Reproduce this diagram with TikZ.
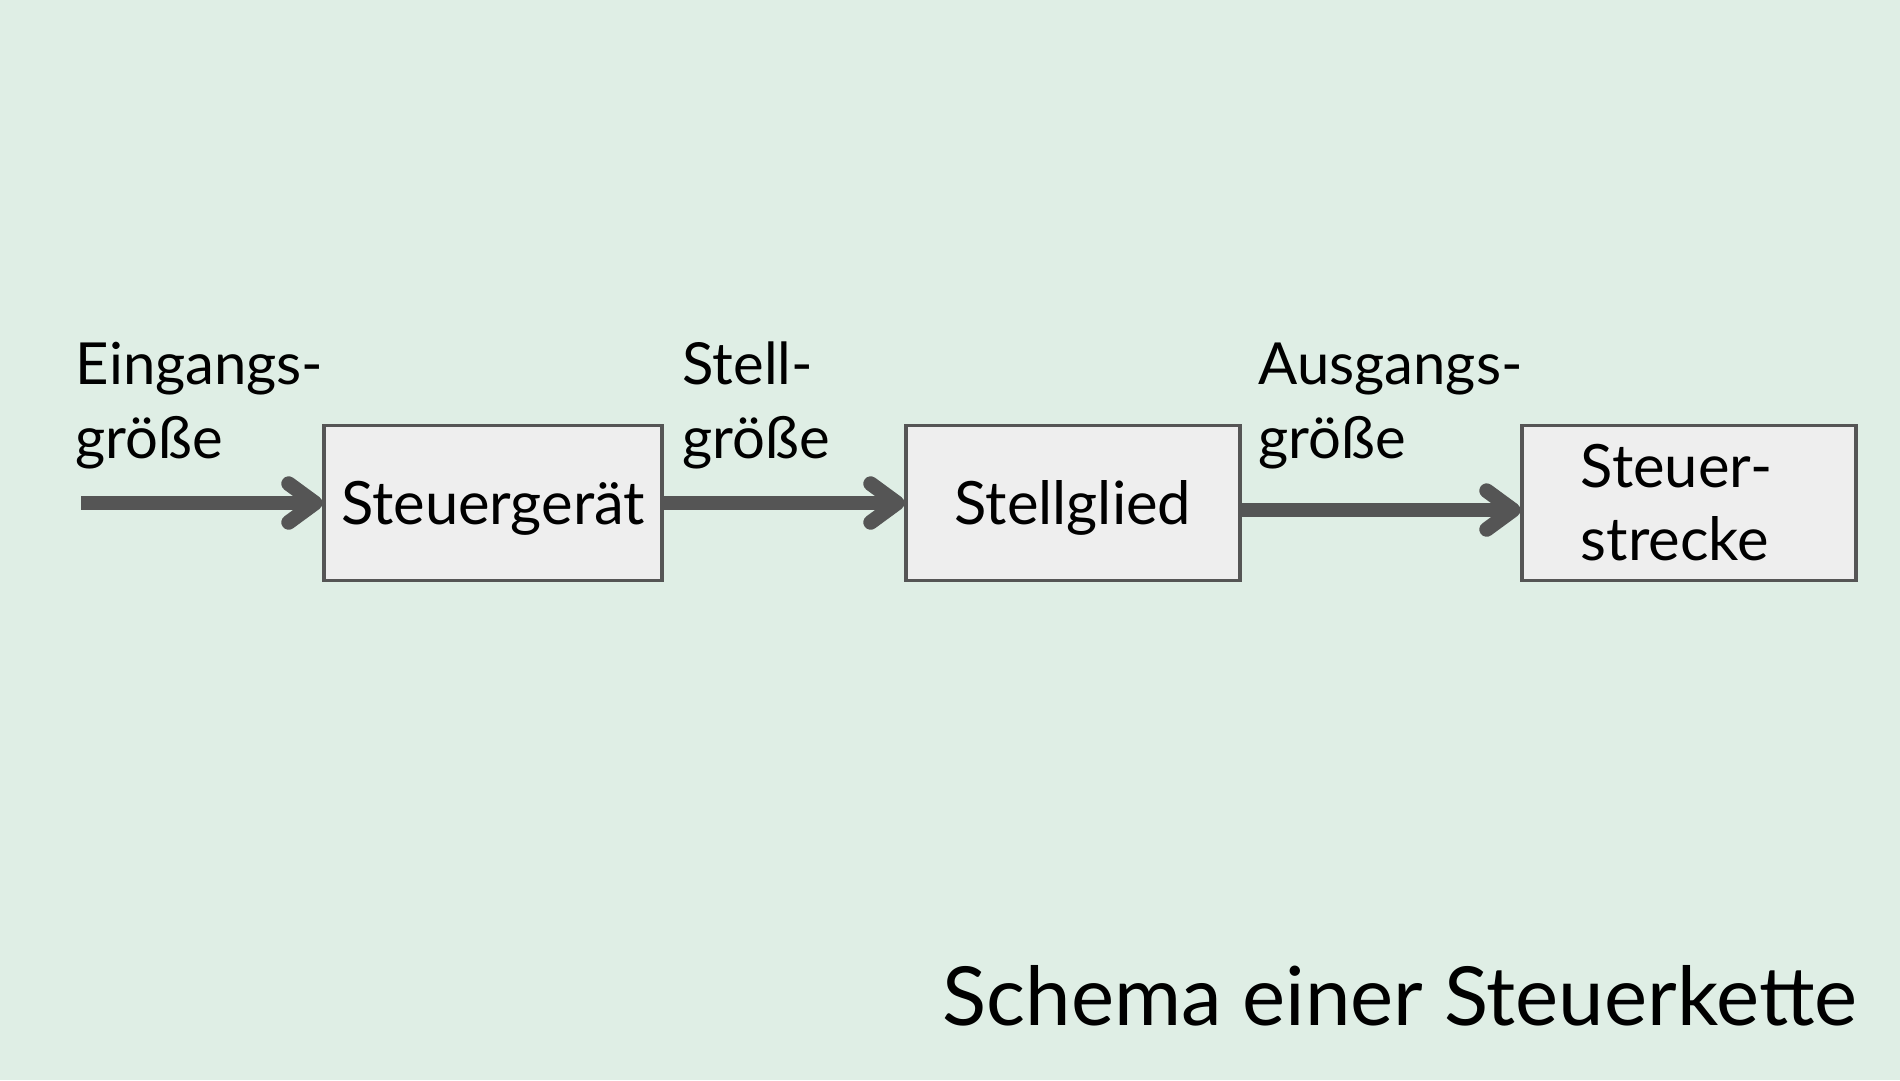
\documentclass[tikz,border=0pt]{standalone}
\usepackage{fontspec}
\setmainfont{Lato}
\usetikzlibrary{arrows.meta}
\definecolor{fundo}{HTML}{DFEEE5}
\definecolor{hell}{HTML}{EEEEEE}
\definecolor{grau}{HTML}{555555}
\begin{document}
\begin{tikzpicture}[x=0.1mm,y=-0.1mm,
    kasten/.style={draw=grau,fill=hell,line width=0.9pt,minimum width=33.4mm,minimum height=15.5mm,
      align=left,font=\fontsize{17}{20.8}\selectfont},
    einzeilig/.style={text height=15pt,text depth=3pt},
    pfeil/.style={grau,line width=4.2pt,-{Straight Barb[length=7.5pt,width=11pt,round]}},
    groesse/.style={anchor=base west,inner sep=0pt,align=left,font=\fontsize{16.5}{20.8}\selectfont}
]
\fill[fundo] (0,0) rectangle (1900,1080);
\node[kasten,einzeilig,minimum width=33.8mm] (sg) at (493,503) {Steuergerät};
\node[kasten,einzeilig] (sgl) at (1073,503) {Stellglied};
\node[kasten] (ss) at (1689,503) {\hspace*{-7pt}Steuer-\\\hspace*{-7pt}strecke};
\coordinate (ein) at (81,503);

\draw[pfeil] (ein) -- (sg);
\draw[pfeil] (sg) -- (sgl);
\draw[pfeil] ([yshift=-2pt]sgl.east) -- ([yshift=-2pt]ss.west);

% zweite Zeile liegt auf der Grundlinie
\node[groesse] (eg) at (75,458) {Eingangs-\\größe};
\node[groesse] (stg) at (682,458) {Stell-\\größe};
\node[groesse] (ag) at (1258,458) {Ausgangs-\\größe};

\node[anchor=base east,inner sep=0pt,font=\fontsize{23.2}{27}\selectfont] (titel) at (1858,1025) {Schema einer Steuerkette};
\end{tikzpicture}
\end{document}
